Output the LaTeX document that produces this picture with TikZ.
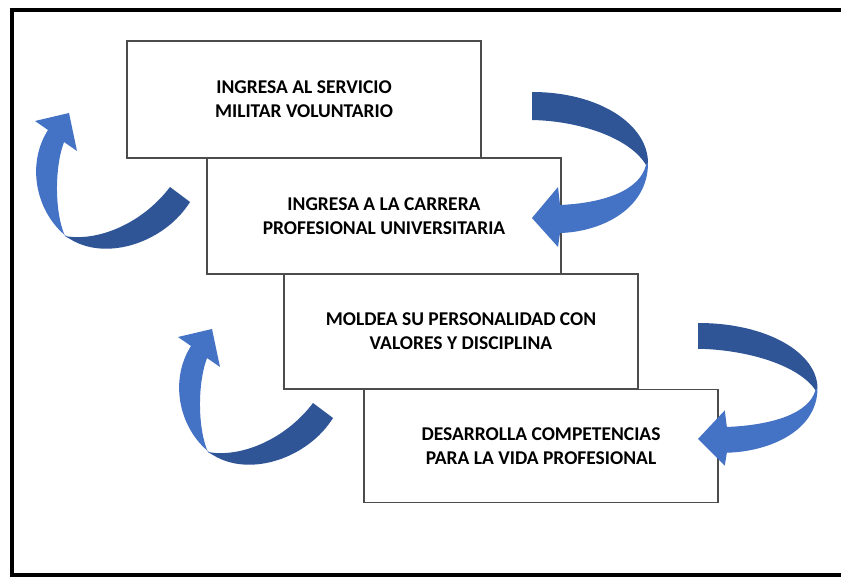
\documentclass[tikz,border=0pt]{standalone}
\usepackage{fontspec}
\setmainfont{Carlito}
\usepackage{tikz}

\definecolor{ribbondark}{HTML}{2F5597}
\definecolor{ribbonlight}{HTML}{4472C4}

\tikzset{
	stage/.style={shape=rectangle,draw=black!70,line width=1.6pt,fill=white,minimum width=354pt,align=center,font=\bfseries\fontsize{19.5}{24}\selectfont},
	pics/turnright/.style={code={
		\fill[ribbondark] (0,0) .. controls (68,0) and (116,33) .. (116,71) -- (114,73) .. controls (98,46) and (48,29) .. (0,28) -- cycle;
		\fill[ribbonlight] (116,71) .. controls (116,118) and (68,140) .. (28,141) -- (26,155) -- (0,126) -- (26,95) -- (28,113) .. controls (73,111) and (108,98) .. (114,73) -- cycle;
	}},
	pics/turnleft/.style={code={
		\fill[ribbondark] (0,0) -- (20,15) .. controls (-5,55) and (-63,75) .. (-100,52) -- (-105,49) .. controls (-73,55) and (-28,37) .. (0,0) -- cycle;
		\fill[ribbonlight] (-100,52) .. controls (-133,29) and (-145,-21) .. (-122,-57) -- (-135,-66) -- (-101,-74) -- (-93,-36) -- (-106,-45) .. controls (-116,-18) and (-115,27) .. (-105,49) -- cycle;
	}},
}

\begin{document}
\begin{tikzpicture}[x=1pt,y=-1pt]
	
	\useasboundingbox (0,0) rectangle (841,577);
	\clip (0,0) rectangle (841,577);
	\draw[line width=3.5pt] (12,10) rectangle (850,575);
	
	\node[stage,minimum height=117pt] (serv) at (304, 99.5)     {INGRESA AL SERVICIO\\MILITAR VOLUNTARIO};
	\node[stage,minimum height=116pt] (carr) at (384, 216)     {INGRESA A LA CARRERA\\PROFESIONAL UNIVERSITARIA};
	\node[stage,minimum height=115pt] (mold) at (461, 331.5)     {MOLDEA SU PERSONALIDAD CON\\VALORES Y DISCIPLINA};
	\node[stage,minimum height=113pt] (desa) at (541, 446)     {DESARROLLA COMPETENCIAS\\PARA LA VIDA PROFESIONAL};
	
	\pic at (532, 92) {turnright};
	\pic[xscale=1.03,yscale=0.92] at (698, 323) {turnright};
	\pic at (170, 187) {turnleft};
	\pic at (313, 403) {turnleft};
	
\end{tikzpicture}
\end{document}
